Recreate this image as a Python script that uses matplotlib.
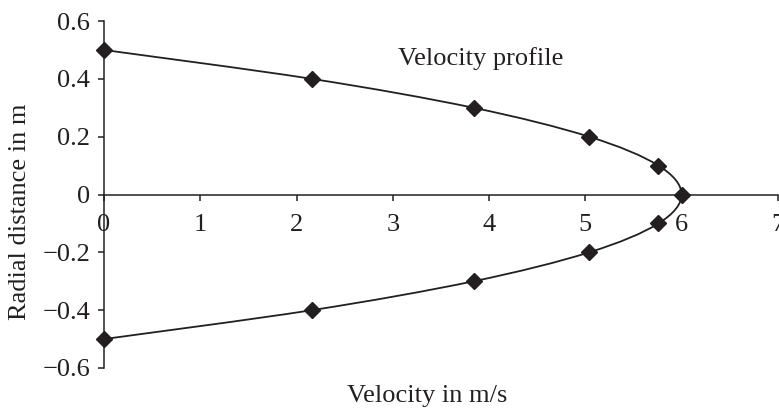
import numpy as np
import matplotlib.pyplot as plt
from matplotlib.path import Path
from matplotlib.patches import PathPatch

plt.rcParams["font.family"] = ["Liberation Serif", "DejaVu Serif"]
plt.rcParams["axes.unicode_minus"] = True

# velocity (m/s) at each radial position (m)
velocity = [0, 2.16, 3.84, 5.04, 5.76, 6, 5.76, 5.04, 3.84, 2.16, 0]
radius = [0.5, 0.4, 0.3, 0.2, 0.1, 0, -0.1, -0.2, -0.3, -0.4, -0.5]

x_ticks = [0, 1, 2, 3, 4, 5, 6, 7]
y_ticks = [-0.6, -0.4, -0.2, 0, 0.2, 0.4, 0.6]
y_labels = ["\u22120.6", "\u22120.4", "\u22120.2", "0", "0.2", "0.4", "0.6"]

ink = "#231f20"
fs = 19


def smooth_path(xs, ys, yscale, tension=0.5):
    # Catmull-Rom bezier through the points, worked out with y stretched
    # by yscale so the curve bends the same way it looks on screen
    pts = np.column_stack([xs, np.asarray(ys) * yscale]).astype(float)
    n = len(pts)
    verts = [pts[0]]
    codes = [Path.MOVETO]
    for i in range(n - 1):
        p0 = pts[i - 1] if i > 0 else pts[i]
        p1 = pts[i]
        p2 = pts[i + 1]
        p3 = pts[i + 2] if i + 2 < n else pts[i + 1]
        c1 = p1 + (p2 - p0) * tension / 3
        c2 = p2 - (p3 - p1) * tension / 3
        verts += [c1, c2, p2]
        codes += [Path.CURVE4] * 3
    verts = np.array(verts)
    verts[:, 1] /= yscale
    return Path(verts, codes)


fig = plt.figure(figsize=(7.79, 4.13), dpi=100)
ax = fig.add_axes([0.1335, 0.109, 0.865, 0.840])

ax.set_xlim(0, 7)
ax.set_ylim(-0.6, 0.6)

# pixels per unit on each axis
bb = ax.bbox
k = (bb.height / 1.2) / (bb.width / 7)

ax.add_patch(PathPatch(smooth_path(velocity, radius, k), facecolor="none",
                       edgecolor=ink, lw=1.3, zorder=2))
ax.plot(velocity, radius, linestyle="none", marker="D", markersize=8,
        color=ink, zorder=3, clip_on=False)

ax.set_xticks(x_ticks)
ax.set_yticks(y_ticks)
ax.set_yticklabels(y_labels)

ax.spines["left"].set_position(("data", 0))
ax.spines["bottom"].set_position(("data", 0))
ax.spines["top"].set_visible(False)
ax.spines["right"].set_visible(False)
for s in ("left", "bottom"):
    ax.spines[s].set_color(ink)
    ax.spines[s].set_linewidth(1.1)

ax.tick_params(axis="both", direction="out", length=4, width=1.1, color=ink,
               labelsize=fs, labelcolor=ink)
ax.tick_params(axis="x", pad=10)
ax.tick_params(axis="y", pad=6)

ax.text(3.91, 0.47, "Velocity profile", fontsize=fs, color=ink,
        ha="center", va="center")

fig.text(0.026, 0.487, "Radial distance in m", rotation=90, fontsize=fs,
         color=ink, ha="center", va="center")
fig.text(0.548, 0.04, "Velocity in m/s", fontsize=fs, color=ink,
         ha="center", va="center")

fig.savefig("out.png", dpi=100)
